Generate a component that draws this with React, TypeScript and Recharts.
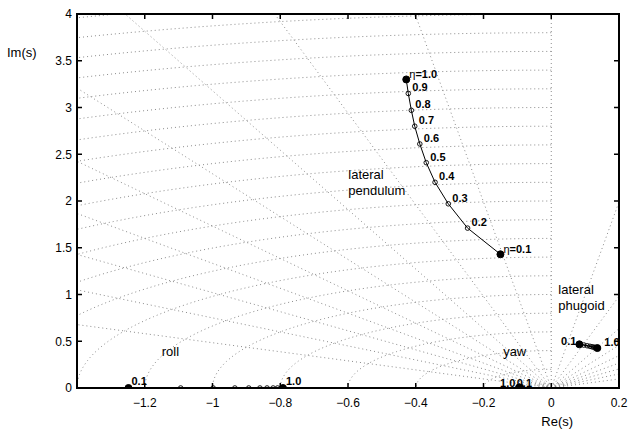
import React from 'react';
import { LineChart, Line, XAxis, YAxis, ReferenceDot } from 'recharts';

// ---------- data ----------
const etaValues = [0.1, 0.2, 0.3, 0.4, 0.5, 0.6, 0.7, 0.8, 0.9, 1.0];

const pendulumRe = [-0.150, -0.247, -0.304, -0.343, -0.369, -0.388, -0.403, -0.413, -0.422, -0.428];
const pendulumIm = [1.43, 1.71, 1.97, 2.20, 2.41, 2.61, 2.80, 2.97, 3.15, 3.30];

const rollRe = [-1.248, -1.094, -0.998, -0.934, -0.893, -0.860, -0.839, -0.821, -0.808, -0.792];
const rollIm = [0, 0, 0, 0, 0, 0, 0, 0, 0, 0];

const yawRe = [-0.093, -0.093, -0.093, -0.094, -0.094, -0.094, -0.094, -0.094, -0.094, -0.094];
const yawIm = [0, 0, 0, 0, 0, 0, 0, 0, 0, 0];

const phugoidRe = [0.083, 0.096, 0.106, 0.114, 0.120, 0.125, 0.129, 0.132, 0.134, 0.136];
const phugoidIm = [0.467, 0.459, 0.452, 0.446, 0.441, 0.437, 0.434, 0.431, 0.429, 0.427];

const xTicks = [-1.2, -1, -0.8, -0.6, -0.4, -0.2, 0, 0.2];
const yTicks = [0, 0.5, 1, 1.5, 2, 2.5, 3, 3.5, 4];

// s-plane grid (constant damping rays, constant natural-frequency arcs)
const dampingRatios = [0.1, 0.2, 0.3, 0.4, 0.5, 0.6, 0.7, 0.8, 0.9];
const naturalFrequencies = [0.2, 0.4, 0.6, 0.8, 1.0, 1.2, 1.4, 1.6, 1.8, 2.0, 2.2, 2.4, 2.6, 2.8, 3.0, 3.2, 3.4, 3.6, 3.8, 4.0, 4.2];
const smallFrequencies = [0.025, 0.05];

const annotations = [
  { x: -0.599, y: 2.238, lines: ['lateral', 'pendulum'] },
  { x: -1.150, y: 0.337, lines: ['roll'] },
  { x: -0.142, y: 0.337, lines: ['yaw'] },
  { x: 0.021, y: 1.01, lines: ['lateral', 'phugoid'] },
];

const X_MIN = -1.4;
const X_MAX = 0.2;
const Y_MIN = 0;
const Y_MAX = 4;

// ---------- layout ----------
const CHART_W = 628;
const CHART_H = 432;
const MARGIN = { top: 14, right: 9, left: 0, bottom: 0 };
const Y_AXIS_W = 77;
const X_AXIS_H = 44;
const PLOT_W = CHART_W - MARGIN.left - MARGIN.right - Y_AXIS_W;
const PLOT_H = CHART_H - MARGIN.top - MARGIN.bottom - X_AXIS_H;
const FONT = '"Liberation Sans", Arial, Helvetica, sans-serif';
const TICK_LEN = 5;
const TICK_W = 1.5;
const FRAME_W = 2;

// ---------- helpers ----------
const series = (re: number[], im: number[]) =>
  re.map((x, i) => ({ x, y: im[i], eta: etaValues[i] }));

const rayPoints = (z: number, side: number) => [
  { x: 0, y: 0 },
  { x: side * z * 6, y: Math.sqrt(1 - z * z) * 6 },
];

const arcPoints = (w: number, a0: number, a1: number) => {
  const pts: { x: number; y: number }[] = [];
  for (let a = a0; a <= a1 + 1e-9; a += 1.5) {
    const r = (a * Math.PI) / 180;
    pts.push({ x: w * Math.cos(r), y: w * Math.sin(r) });
  }
  return pts;
};

const fmt = (v: number) => {
  if (v === 0) return '0';
  const s = String(Math.abs(v));
  return v < 0 ? '\u2212' + s : s;
};

type LabelSpec = { text: string; eta?: boolean; dx: number; dy: number; anchor: 'start' | 'end' } | null;

const makeDot = (labels: LabelSpec[], endR: number) => (props: any) => {
  const { cx, cy, index } = props;
  if (cx == null || cy == null) return <g key={`e-${index}`} />;
  const isEnd = index === 0 || index === etaValues.length - 1;
  const lab = labels[index];
  return (
    <g key={`d-${index}`}>
      {isEnd ? (
        <circle cx={cx} cy={cy} r={endR} fill="#000" stroke="#000" />
      ) : (
        <circle cx={cx} cy={cy} r={2.3} fill="none" stroke="#000" strokeWidth={0.9} />
      )}
      {lab && (
        <text
          x={cx + lab.dx}
          y={cy + lab.dy}
          textAnchor={lab.anchor}
          fontFamily={FONT}
          fontSize={11}
          fontWeight="bold"
          fill="#000"
        >
          {lab.eta ? (
            <>
              <tspan fontWeight="normal">η</tspan>
              {lab.text}
            </>
          ) : (
            lab.text
          )}
        </text>
      )}
    </g>
  );
};

const pendulumLabels: LabelSpec[] = etaValues.map((e, i) => {
  const t = e.toFixed(1);
  if (i === 0 || i === etaValues.length - 1) return { text: '=' + t, eta: true, dx: 3, dy: -1.5, anchor: 'start' };
  return { text: t, dx: 4, dy: -2, anchor: 'start' };
});
const rollLabels: LabelSpec[] = etaValues.map((e, i) =>
  i === 0 || i === etaValues.length - 1 ? { text: e.toFixed(1), dx: 3, dy: -3, anchor: 'start' } : null
);
const yawLabels: LabelSpec[] = etaValues.map((e, i) => {
  if (i === etaValues.length - 1) return { text: e.toFixed(1), dx: -4, dy: -1.5, anchor: 'end' };
  if (i === 0) return { text: e.toFixed(1), dx: -3, dy: -1.5, anchor: 'start' };
  return null;
});
const phugoidLabels: LabelSpec[] = etaValues.map((e, i) => {
  if (i === 0) return { text: e.toFixed(1), dx: -3, dy: 1, anchor: 'end' };
  if (i === etaValues.length - 1) return { text: e.toFixed(1), dx: 7, dy: -2, anchor: 'start' };
  return null;
});

const GRID_STROKE = '#8c8c8c';
const gridLine = (key: string, data: { x: number; y: number }[]) => (
  <Line
    key={key}
    data={data}
    dataKey="y"
    type="linear"
    stroke={GRID_STROKE}
    strokeWidth={1}
    strokeDasharray="1 3"
    dot={false}
    activeDot={false}
    isAnimationActive={false}
    legendType="none"
  />
);

// frame anchored at the top-left data corner (X_MIN, Y_MAX)
const FrameShape = (p: any) => {
  const h = FRAME_W / 2;
  return (
    <g>
      <rect x={p.cx - h} y={p.cy - h} width={PLOT_W + FRAME_W} height={FRAME_W} fill="#000" />
      <rect x={p.cx - h} y={p.cy + PLOT_H - h} width={PLOT_W + FRAME_W} height={FRAME_W} fill="#000" />
      <rect x={p.cx - h} y={p.cy - h} width={FRAME_W} height={PLOT_H + FRAME_W} fill="#000" />
      <rect x={p.cx + PLOT_W - h} y={p.cy - h} width={FRAME_W} height={PLOT_H + FRAME_W} fill="#000" />
    </g>
  );
};

// inward tick marks anchored at tick values on each edge
const tickShape = (side: 'b' | 't' | 'l' | 'r') => (p: any) => {
  const h = TICK_W / 2;
  if (side === 'b') return <rect x={p.cx - h} y={p.cy - TICK_LEN} width={TICK_W} height={TICK_LEN} fill="#000" />;
  if (side === 't') return <rect x={p.cx - h} y={p.cy} width={TICK_W} height={TICK_LEN} fill="#000" />;
  if (side === 'l') return <rect x={p.cx} y={p.cy - h} width={TICK_LEN} height={TICK_W} fill="#000" />;
  return <rect x={p.cx - TICK_LEN} y={p.cy - h} width={TICK_LEN} height={TICK_W} fill="#000" />;
};

const XTickLabel = (p: any) => (
  <text x={p.x} y={p.y} dy="0.71em" textAnchor="middle" fontFamily={FONT} fontSize={12} fill="#000">
    {fmt(p.payload.value)}
  </text>
);
const YTickLabel = (p: any) => (
  <text x={p.x} y={p.y} dy="0.355em" textAnchor="end" fontFamily={FONT} fontSize={12} fill="#000">
    {fmt(p.payload.value)}
  </text>
);

export default function App() {
  const gridLines: React.ReactNode[] = [];
  gridLines.push(gridLine('imag', [{ x: 0, y: 0 }, { x: 0, y: 6 }]));
  dampingRatios.forEach((z) => {
    gridLines.push(gridLine(`rl-${z}`, rayPoints(z, -1)));
    gridLines.push(gridLine(`rr-${z}`, rayPoints(z, 1)));
  });
  naturalFrequencies.forEach((w) => gridLines.push(gridLine(`c-${w}`, arcPoints(w, 90, 180))));
  smallFrequencies.forEach((w) => gridLines.push(gridLine(`s-${w}`, arcPoints(w, 0, 180))));

  const tickMarks: React.ReactNode[] = [];
  xTicks.forEach((v) => {
    tickMarks.push(<ReferenceDot key={`tb-${v}`} x={v} y={Y_MIN} r={0} shape={tickShape('b')} />);
    tickMarks.push(<ReferenceDot key={`tt-${v}`} x={v} y={Y_MAX} r={0} shape={tickShape('t')} />);
  });
  yTicks.forEach((v) => {
    tickMarks.push(<ReferenceDot key={`tl-${v}`} x={X_MIN} y={v} r={0} shape={tickShape('l')} />);
    tickMarks.push(<ReferenceDot key={`tr-${v}`} x={X_MAX} y={v} r={0} shape={tickShape('r')} />);
  });

  return (
    <div style={{ position: 'absolute', left: 0, top: 0, background: '#fff' }}>
      <LineChart width={CHART_W} height={CHART_H} margin={MARGIN}>
        <XAxis
          type="number"
          dataKey="x"
          domain={[X_MIN, X_MAX]}
          allowDataOverflow
          ticks={xTicks}
          interval={0}
          axisLine={false}
          tickLine={false}
          tickSize={0}
          tickMargin={10}
          tick={XTickLabel}
          height={X_AXIS_H}
          label={{
            content: (p: any) => {
              const vb = p.viewBox;
              return (
                <text x={vb.x + vb.width * 0.886} y={vb.y + 38} textAnchor="middle" fontFamily={FONT} fontSize={13} fill="#000">
                  Re(s)
                </text>
              );
            },
          }}
        />
        <YAxis
          type="number"
          dataKey="y"
          domain={[Y_MIN, Y_MAX]}
          allowDataOverflow
          ticks={yTicks}
          interval={0}
          axisLine={false}
          tickLine={false}
          tickSize={0}
          tickMargin={5}
          tick={YTickLabel}
          width={Y_AXIS_W}
          label={{
            content: (p: any) => {
              const vb = p.viewBox;
              return (
                <text x={vb.x + 7} y={vb.y + 43} textAnchor="start" fontFamily={FONT} fontSize={13} fill="#000">
                  Im(s)
                </text>
              );
            },
          }}
        />

        {gridLines}

        <Line
          data={series(rollRe, rollIm)}
          dataKey="y"
          stroke="#000"
          strokeWidth={1}
          dot={makeDot(rollLabels, 3.5)}
          activeDot={false}
          isAnimationActive={false}
        />
        <Line
          data={series(pendulumRe, pendulumIm)}
          dataKey="y"
          stroke="#000"
          strokeWidth={1}
          dot={makeDot(pendulumLabels, 3.5)}
          activeDot={false}
          isAnimationActive={false}
        />
        <Line
          data={series(yawRe, yawIm)}
          dataKey="y"
          stroke="#000"
          strokeWidth={1}
          dot={makeDot(yawLabels, 4)}
          activeDot={false}
          isAnimationActive={false}
        />
        <Line
          data={series(phugoidRe, phugoidIm)}
          dataKey="y"
          stroke="#000"
          strokeWidth={1.5}
          dot={makeDot(phugoidLabels, 3.5)}
          activeDot={false}
          isAnimationActive={false}
        />

        {annotations.map((a, i) => (
          <ReferenceDot
            key={`ann-${i}`}
            x={a.x}
            y={a.y}
            r={0}
            shape={(p: any) => (
              <text x={p.cx} y={p.cy} fontFamily={FONT} fontSize={13} fill="#000">
                {a.lines.map((l, j) => (
                  <tspan key={j} x={p.cx} dy={j === 0 ? 0 : 16}>
                    {l}
                  </tspan>
                ))}
              </text>
            )}
          />
        ))}

        {tickMarks}
        <ReferenceDot x={X_MIN} y={Y_MAX} r={0} shape={FrameShape} />
      </LineChart>
    </div>
  );
}
